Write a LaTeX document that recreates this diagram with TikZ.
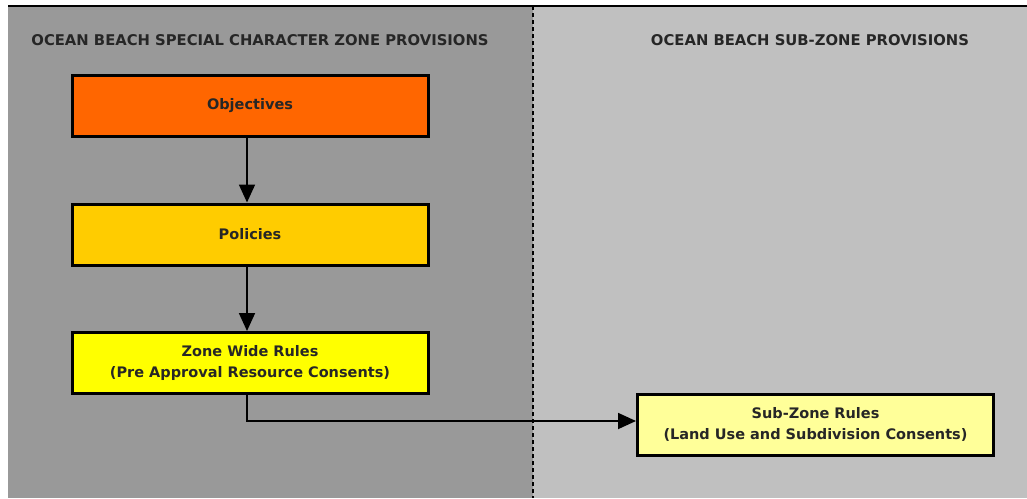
\documentclass[tikz,border=0pt]{standalone}
\usepackage{fontspec}
\setmainfont{DejaVu Sans}
\usetikzlibrary{arrows.meta}
\definecolor{leftbg}{HTML}{999999}
\definecolor{rightbg}{HTML}{C0C0C0}
\definecolor{objc}{HTML}{FF6600}
\definecolor{polc}{HTML}{FFCC00}
\definecolor{zwrc}{HTML}{FFFF00}
\definecolor{szrc}{HTML}{FFFF99}
\tikzset{
  x=1pt,y=-1pt,
  box/.style={draw=black,line width=3pt,minimum width=356pt,minimum height=61pt,inner sep=0pt,align=center,font=\fontsize{14.5}{21}\selectfont\bfseries,text=black!85},
  header/.style={font=\fontsize{14.8}{17}\selectfont\bfseries,text=black!85,inner sep=0pt},
  conn/.style={line width=1.8pt,-{Triangle[width=16pt,length=18pt]}}
}
\begin{document}
\begin{tikzpicture}
\useasboundingbox (0,0) rectangle (1027,498);
\fill[white] (0,0) rectangle (1027,498);
\fill[leftbg] (8,6) rectangle (533,498);
\fill[rightbg] (533,6) rectangle (1027,498);
\draw[line width=1.5pt] (8,6) -- (1027,6);
\draw[line width=1.2pt,dash pattern=on 4pt off 3pt] (533,6) -- (533,498);
\node[header] (hl) at (260,40) {OCEAN BEACH SPECIAL CHARACTER ZONE PROVISIONS};
\node[header] (hr) at (810,40) {OCEAN BEACH SUB-ZONE PROVISIONS};
\node[box,fill=objc] (obj) at (250,105.5) {Objectives};
\node[box,fill=polc] (pol) at (250,234.5) {Policies};
\node[box,fill=zwrc] (zwr) at (250,363) {Zone Wide Rules\\(Pre Approval Resource Consents)};
\node[box,fill=szrc] (szr) at (815.5,424.5) {Sub-Zone Rules\\(Land Use and Subdivision Consents)};
\coordinate (szin) at (szr.west |- 0,421);
\draw[conn] (obj.south -| 247,0) -- (pol.north -| 247,0);
\draw[conn] (pol.south -| 247,0) -- (zwr.north -| 247,0);
\draw[conn] (zwr.south -| 247,0) |- (szin);
\end{tikzpicture}
\end{document}
